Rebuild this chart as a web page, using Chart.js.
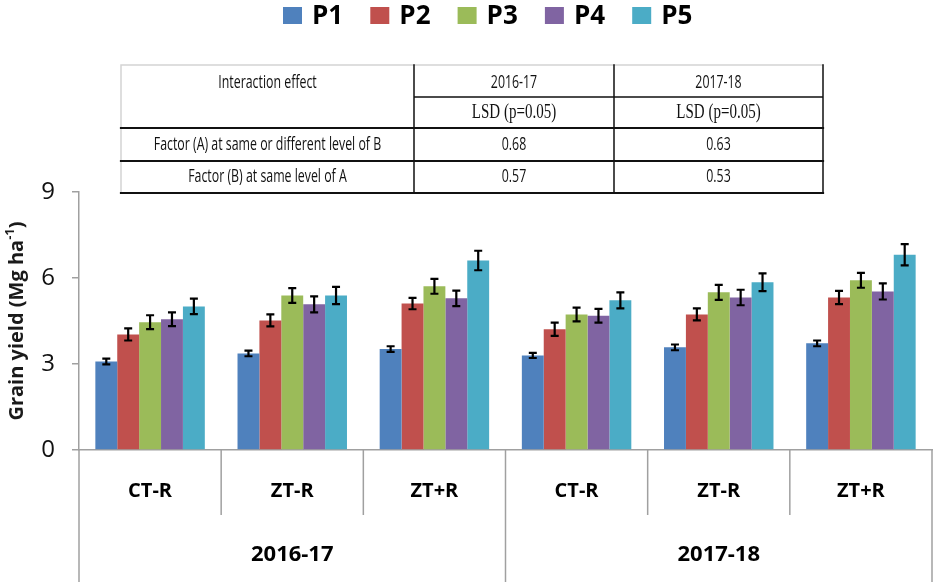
<!DOCTYPE html>
<html>
<head>
<meta charset="utf-8">
<script src="https://cdn.jsdelivr.net/npm/chart.js@4.4.1/dist/chart.umd.min.js"></script>
<style>
html, body { margin: 0; padding: 0; background: #fff; }
#wrap { width: 935px; height: 585px; }
</style>
</head>
<body>
<div id="wrap"><canvas id="yieldChart"></canvas></div>
<script>
// categories
const tillage = ['CT-R', 'ZT-R', 'ZT+R', 'CT-R', 'ZT-R', 'ZT+R'];
const seasons = ['2016-17', '2017-18'];
const seriesNames = ['P1', 'P2', 'P3', 'P4', 'P5'];
const seriesColors = ['#4F81BD', '#C0504D', '#9BBB59', '#8064A2', '#4BACC6'];

// grain yield (Mg/ha)
const p1 = [3.09, 3.37, 3.52, 3.30, 3.58, 3.72];
const p2 = [4.03, 4.52, 5.11, 4.21, 4.73, 5.32];
const p3 = [4.46, 5.39, 5.71, 4.73, 5.50, 5.92];
const p4 = [4.56, 5.08, 5.29, 4.68, 5.32, 5.53];
const p5 = [5.01, 5.39, 6.61, 5.22, 5.85, 6.81];

// error bar half-lengths
const p1Err = [0.10, 0.10, 0.10, 0.09, 0.10, 0.10];
const p2Err = [0.21, 0.21, 0.20, 0.23, 0.21, 0.23];
const p3Err = [0.24, 0.26, 0.26, 0.24, 0.26, 0.26];
const p4Err = [0.24, 0.28, 0.27, 0.24, 0.27, 0.28];
const p5Err = [0.27, 0.30, 0.34, 0.28, 0.31, 0.37];

const yTicks = [0, 3, 6, 9];
const yTitle = ['Grain yield (Mg ha', '-1', ')'];

// LSD table
const lsdHead = ['Interaction effect', '2016-17', '2017-18'];
const lsdSub = 'LSD (p=0.05)';
const lsdFactors = ['Factor (A) at same or different level of B', 'Factor (B) at same level of A'];
const lsd1617 = ['0.68', '0.57'];
const lsd1718 = ['0.63', '0.53'];

const values = [p1, p2, p3, p4, p5];
const errors = [p1Err, p2Err, p3Err, p4Err, p5Err];

const SANS = '"Open Sans", "DejaVu Sans", sans-serif';

// error bars on top of each bar
const errorBars = {
    id: 'errorBars',
    afterDatasetsDraw(chart) {
        const ctx = chart.ctx;
        const y = chart.scales.y;
        ctx.save();
        ctx.strokeStyle = '#000';
        ctx.lineWidth = 2.2;
        chart.data.datasets.forEach((ds, d) => {
            chart.getDatasetMeta(d).data.forEach((bar, i) => {
                const v = ds.data[i], e = ds.errors[i];
                const top = y.getPixelForValue(v + e);
                const bot = y.getPixelForValue(v - e);
                ctx.beginPath();
                ctx.moveTo(bar.x, top); ctx.lineTo(bar.x, bot);
                ctx.moveTo(bar.x - 4, top); ctx.lineTo(bar.x + 4, top);
                ctx.moveTo(bar.x - 4, bot); ctx.lineTo(bar.x + 4, bot);
                ctx.stroke();
            });
        });
        ctx.restore();
    }
};

// two level x axis: tillage below the bars, season underneath
const groupAxis = {
    id: 'groupAxis',
    afterDraw(chart) {
        const ctx = chart.ctx;
        const x = chart.scales.x;
        const base = chart.chartArea.bottom;
        const step = x.getPixelForValue(1) - x.getPixelForValue(0);
        const start = x.getPixelForValue(0) - step / 2;
        ctx.save();
        ctx.strokeStyle = '#a0a0a0';
        ctx.lineWidth = 1.5;
        for (let i = 0; i <= tillage.length; i++) {
            const bx = start + i * step;
            ctx.beginPath();
            ctx.moveTo(bx, base);
            ctx.lineTo(bx, base + (i % 3 === 0 ? 132 : 65));
            ctx.stroke();
        }
        ctx.fillStyle = '#000';
        ctx.textAlign = 'center';
        ctx.textBaseline = 'middle';
        ctx.font = 'bold 20px ' + SANS;
        tillage.forEach((t, i) => ctx.fillText(t, x.getPixelForValue(i), base + 41));
        ctx.font = 'bold 22px ' + SANS;
        seasons.forEach((s, k) => {
            const cx = (x.getPixelForValue(k * 3) + x.getPixelForValue(k * 3 + 2)) / 2;
            ctx.fillText(s, cx, base + 105);
        });
        ctx.restore();
    }
};

// y title with a real superscript
const yAxisTitle = {
    id: 'yAxisTitle',
    afterDraw(chart) {
        const ctx = chart.ctx;
        const area = chart.chartArea;
        const main = 'bold 20px ' + SANS;
        const sup = 'bold 13px ' + SANS;
        ctx.save();
        ctx.font = main;
        const w0 = ctx.measureText(yTitle[0]).width;
        const w2 = ctx.measureText(yTitle[2]).width;
        ctx.font = sup;
        const w1 = ctx.measureText(yTitle[1]).width;
        const total = w0 + w1 + w2;
        ctx.translate(17, (area.top + area.bottom) / 2);
        ctx.rotate(-Math.PI / 2);
        ctx.fillStyle = '#1a1a1a';
        ctx.textAlign = 'left';
        ctx.textBaseline = 'middle';
        let tx = -total / 2;
        ctx.font = main;
        ctx.fillText(yTitle[0], tx, 0);
        tx += w0;
        ctx.font = sup;
        ctx.fillText(yTitle[1], tx, -7);
        tx += w1;
        ctx.font = main;
        ctx.fillText(yTitle[2], tx, 0);
        ctx.restore();
    }
};

// legend row across the top
const topLegend = {
    id: 'topLegend',
    afterDraw(chart) {
        const ctx = chart.ctx;
        ctx.save();
        ctx.font = 'bold 26px ' + SANS;
        ctx.textBaseline = 'middle';
        ctx.textAlign = 'left';
        let lx = 283;
        seriesNames.forEach((n, k) => {
            ctx.fillStyle = seriesColors[k];
            ctx.fillRect(lx, 7, 19, 17);
            ctx.fillStyle = '#000';
            ctx.fillText(n, lx + 29, 17);
            lx += 87.3;
        });
        ctx.restore();
    }
};

function cellText(ctx, text, cx, cy, font, squeeze) {
    ctx.font = font;
    const w = ctx.measureText(text).width;
    ctx.fillText(text, cx, cy, w * squeeze);
}

// LSD table above the bars
const lsdTable = {
    id: 'lsdTable',
    afterDraw(chart) {
        const ctx = chart.ctx;
        const cols = [121, 414, 614, 823];
        const rows = [65, 97, 128, 161, 193];
        const sans = '19px ' + SANS;
        const serif = '20px "Liberation Serif", "DejaVu Serif", serif';
        ctx.save();
        ctx.lineCap = 'square';
        // light outer top / left
        ctx.strokeStyle = '#d4d4d4';
        ctx.lineWidth = 1.5;
        ctx.beginPath();
        ctx.moveTo(cols[0], rows[0]); ctx.lineTo(cols[3], rows[0]);
        ctx.moveTo(cols[0], rows[0]); ctx.lineTo(cols[0], rows[4]);
        ctx.stroke();
        ctx.strokeStyle = '#111';
        ctx.beginPath();
        [1, 2, 3].forEach(c => { ctx.moveTo(cols[c], rows[0]); ctx.lineTo(cols[c], rows[4]); });
        ctx.moveTo(cols[1], rows[1]); ctx.lineTo(cols[3], rows[1]);
        ctx.stroke();
        ctx.lineWidth = 2.2;
        ctx.beginPath();
        [2, 3, 4].forEach(r => { ctx.moveTo(cols[0], rows[r]); ctx.lineTo(cols[3], rows[r]); });
        ctx.stroke();

        ctx.fillStyle = '#111';
        ctx.textAlign = 'center';
        ctx.textBaseline = 'middle';
        const mid = (a, b) => (a + b) / 2;
        cellText(ctx, lsdHead[0], mid(cols[0], cols[1]), 83, sans, 0.65);
        cellText(ctx, lsdHead[1], mid(cols[1], cols[2]), 83, sans, 0.65);
        cellText(ctx, lsdHead[2], mid(cols[2], cols[3]), 83, sans, 0.65);
        cellText(ctx, lsdSub, mid(cols[1], cols[2]), 113, serif, 0.75);
        cellText(ctx, lsdSub, mid(cols[2], cols[3]), 113, serif, 0.75);
        lsdFactors.forEach((f, r) => {
            const cy = mid(rows[r + 2], rows[r + 3]);
            cellText(ctx, f, mid(cols[0], cols[1]), cy, sans, 0.65);
            cellText(ctx, lsd1617[r], mid(cols[1], cols[2]), cy, sans, 0.65);
            cellText(ctx, lsd1718[r], mid(cols[2], cols[3]), cy, sans, 0.65);
        });
        ctx.restore();
    }
};

const ctx = document.getElementById('yieldChart').getContext('2d');
new Chart(ctx, {
    type: 'bar',
    data: {
        labels: tillage,
        datasets: seriesNames.map((n, k) => ({
            label: n,
            data: values[k],
            errors: errors[k],
            backgroundColor: seriesColors[k],
            borderWidth: 0,
            categoryPercentage: 0.77,
            barPercentage: 1.0
        }))
    },
    options: {
        responsive: true,
        maintainAspectRatio: false,
        animation: false,
        layout: { padding: { top: 192, right: 3, left: 0, bottom: 0 } },
        scales: {
            x: {
                ticks: { display: false },
                grid: { display: false },
                border: { color: '#a0a0a0', width: 1.5 },
                afterFit: s => { s.height = 135; }
            },
            y: {
                min: 0,
                max: 9,
                afterBuildTicks: s => { s.ticks = yTicks.map(v => ({ value: v })); },
                ticks: { font: { family: SANS, size: 24 }, color: '#111', padding: 17 },
                grid: { drawOnChartArea: false, tickLength: 7, color: '#a0a0a0', lineWidth: 1.5 },
                border: { color: '#a0a0a0', width: 1.5 },
                afterFit: s => { s.width = 79; }
            }
        },
        plugins: {
            legend: { display: false },
            tooltip: { enabled: false }
        }
    },
    plugins: [errorBars, groupAxis, yAxisTitle, topLegend, lsdTable]
});
</script>
</body>
</html>
